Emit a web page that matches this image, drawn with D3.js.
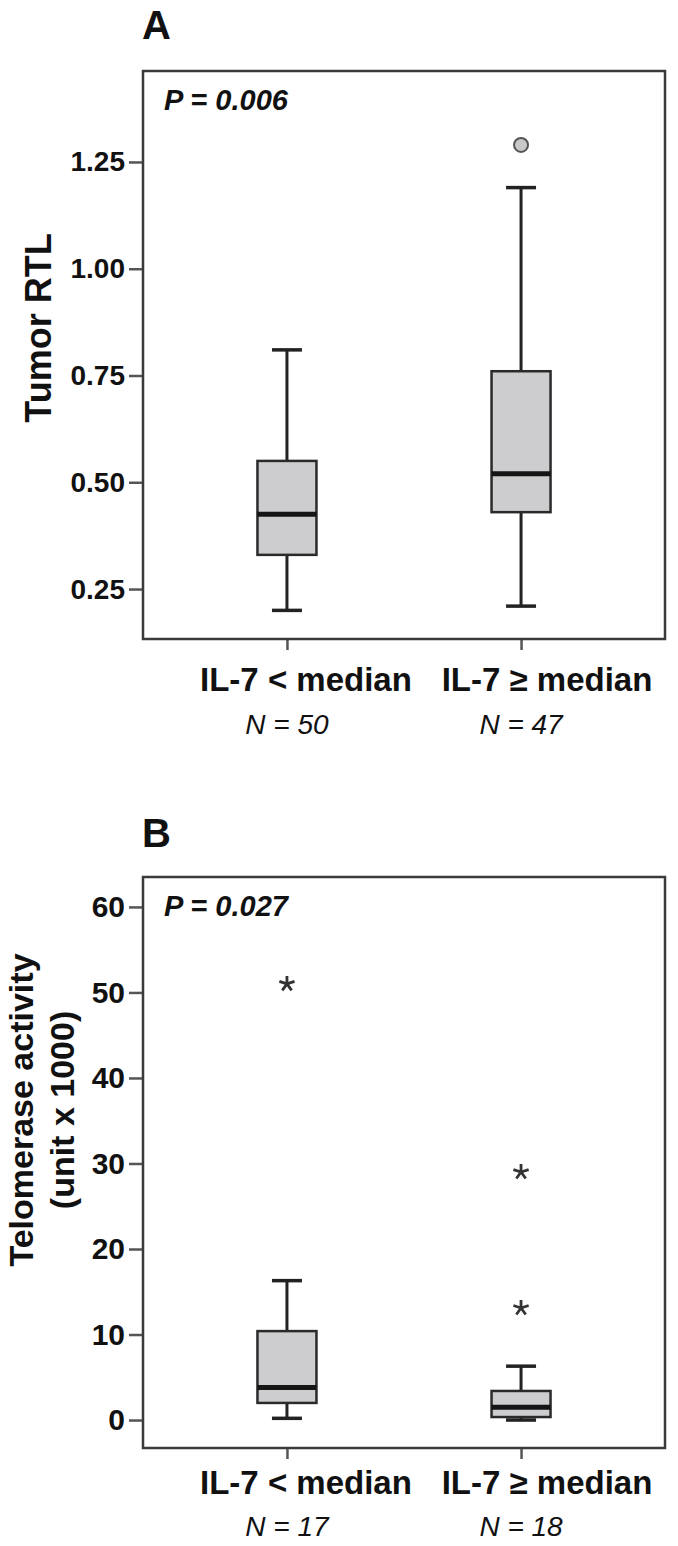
<!DOCTYPE html>
<html><head><meta charset="utf-8">
<script src="https://cdn.jsdelivr.net/npm/d3@7"></script>
<style>body{margin:0;background:#fff} text{font-family:Arial,"Liberation Sans",sans-serif}</style>
</head><body><svg id="c" width="678" height="1546"></svg>
<script>
// ---------- data ----------
const categories = ["IL-7 < median", "IL-7 \u2265 median"];

// Panel A: Tumor RTL
const rtlTicks = [0.25, 0.50, 0.75, 1.00, 1.25];
const rtlWhiskerLow = [0.20, 0.21];
const rtlQ1 = [0.33, 0.43];
const rtlMedian = [0.425, 0.52];
const rtlQ3 = [0.55, 0.76];
const rtlWhiskerHigh = [0.81, 1.19];
const rtlOutliers = [[], [1.29]];      // circles
const rtlN = ["N = 50", "N = 47"];
const rtlP = "P = 0.006";

// Panel B: Telomerase activity
const telTicks = [0, 10, 20, 30, 40, 50, 60];
const telWhiskerLow = [0.2, 0.0];
const telQ1 = [2.0, 0.35];
const telMedian = [3.8, 1.5];
const telQ3 = [10.4, 3.4];
const telWhiskerHigh = [16.3, 6.3];
const telExtremes = [[51], [29, 13.1]]; // asterisks
const telN = ["N = 17", "N = 18"];
const telP = "P = 0.027";

// ---------- layout ----------
const svg = d3.select("#c");
const frameL = 143, frameR = 665;
const labelOffsets = [19, 26];

const asterisk5 = {
  draw(ctx, size) {
    const r = Math.sqrt(size) / 2;
    for (let i = 0; i < 5; i++) {
      const a = -Math.PI / 2 + i * 2 * Math.PI / 5;
      ctx.moveTo(0, 0);
      ctx.lineTo(r * Math.cos(a), r * Math.sin(a));
    }
  }
};

function panel(o) {
  const g = svg.append("g");
  const x = d3.scalePoint().domain(categories).range([frameL, frameR]).padding(0.615);
  const y = d3.scaleLinear().domain(o.domain).range([o.bottom, o.top]);
  const boxW = 59, capW = 30;

  // panel letter
  g.append("text").attr("x", frameL - 1).attr("y", o.letterY)
    .attr("font-size", 40).attr("font-weight", "bold").attr("fill", "#111").text(o.letter);

  // y axis
  const ya = g.append("g").attr("transform", `translate(${frameL},0)`)
    .call(d3.axisLeft(y).tickValues(o.ticks).tickSize(14).tickPadding(4).tickFormat(o.fmt));
  ya.select(".domain").remove();
  ya.selectAll(".tick line").attr("stroke", "#555").attr("stroke-width", 2.5);
  ya.selectAll(".tick text").attr("font-size", o.tickSize).attr("font-weight", "bold")
    .attr("fill", "#111").attr("font-family", "Arial, 'Liberation Sans', sans-serif");

  // x axis ticks
  const xa = g.append("g").attr("transform", `translate(0,${o.bottom})`)
    .call(d3.axisBottom(x).tickSize(11).tickFormat(""));
  xa.select(".domain").remove();
  xa.selectAll(".tick line").attr("stroke", "#555").attr("stroke-width", 2.5);

  // category labels
  categories.forEach((c, i) => {
    g.append("text").attr("x", x(c) + labelOffsets[i]).attr("y", o.bottom + o.labDy)
      .attr("text-anchor", "middle").attr("font-size", 33).attr("font-weight", "bold")
      .attr("fill", "#111").text(c);
    g.append("text").attr("x", x(c)).attr("y", o.bottom + o.nDy)
      .attr("text-anchor", "middle").attr("font-size", 28).attr("font-style", "italic")
      .attr("fill", "#111").text(o.n[i]);
  });

  // axis title
  const t = g.append("text").attr("transform", `translate(${o.titleX},${o.titleY}) rotate(-90)`)
    .attr("text-anchor", "middle").attr("font-size", o.titleSize).attr("font-weight", "bold").attr("fill", "#111");
  o.title.forEach((line, i) => {
    t.append("tspan").attr("x", 0).attr("dy", i === 0 ? 0 : o.titleSize * 1.22).text(line);
  });

  // boxes
  const data = categories.map((c, i) => ({
    c, lo: o.wl[i], q1: o.q1[i], med: o.med[i], q3: o.q3[i], hi: o.wh[i], out: o.out[i]
  }));
  const bg = g.selectAll(".bx").data(data).join("g").attr("class", "bx");
  bg.append("line").attr("x1", d => x(d.c)).attr("x2", d => x(d.c))
    .attr("y1", d => y(d.hi)).attr("y2", d => y(d.q3)).attr("stroke", "#222").attr("stroke-width", 3);
  bg.append("line").attr("x1", d => x(d.c)).attr("x2", d => x(d.c))
    .attr("y1", d => y(d.q1)).attr("y2", d => y(d.lo)).attr("stroke", "#222").attr("stroke-width", 3);
  bg.append("line").attr("x1", d => x(d.c) - capW / 2).attr("x2", d => x(d.c) + capW / 2)
    .attr("y1", d => y(d.hi)).attr("y2", d => y(d.hi)).attr("stroke", "#222").attr("stroke-width", 3.5);
  bg.append("line").attr("x1", d => x(d.c) - capW / 2).attr("x2", d => x(d.c) + capW / 2)
    .attr("y1", d => y(d.lo)).attr("y2", d => y(d.lo)).attr("stroke", "#222").attr("stroke-width", 3.5);
  bg.append("rect").attr("x", d => x(d.c) - boxW / 2).attr("width", boxW)
    .attr("y", d => y(d.q3)).attr("height", d => y(d.q1) - y(d.q3))
    .attr("fill", "#cdcdcf").attr("stroke", "#2a2a2a").attr("stroke-width", 2.5);
  bg.append("line").attr("x1", d => x(d.c) - boxW / 2).attr("x2", d => x(d.c) + boxW / 2)
    .attr("y1", d => y(d.med)).attr("y2", d => y(d.med)).attr("stroke", "#151515").attr("stroke-width", 5);

  // outliers
  data.forEach(d => {
    d.out.forEach(v => {
      if (o.outlierType === "circle") {
        g.append("circle").attr("cx", x(d.c)).attr("cy", y(v)).attr("r", 7)
          .attr("fill", "#c8c8ca").attr("stroke", "#555").attr("stroke-width", 2);
      } else {
        g.append("path").attr("d", d3.symbol().type(asterisk5).size(256)())
          .attr("transform", `translate(${x(d.c)},${y(v)})`)
          .attr("stroke", "#333").attr("stroke-width", 2.8).attr("fill", "none");
      }
    });
  });

  // frame
  g.append("rect").attr("x", frameL).attr("y", o.top).attr("width", frameR - frameL)
    .attr("height", o.bottom - o.top).attr("fill", "none").attr("stroke", "#3a3a3a").attr("stroke-width", 2.5);

  // P value
  g.append("text").attr("x", 164).attr("y", o.top + 39).attr("font-size", 29)
    .attr("font-weight", "bold").attr("font-style", "italic").attr("fill", "#111").text(o.p);
}

panel({
  letter: "A", letterY: 39, top: 71, bottom: 639, domain: [0.133, 1.463],
  ticks: rtlTicks, fmt: d3.format(".2f"), tickSize: 28, labDy: 52, nDy: 95,
  wl: rtlWhiskerLow, q1: rtlQ1, med: rtlMedian, q3: rtlQ3, wh: rtlWhiskerHigh, out: rtlOutliers,
  outlierType: "circle", n: rtlN, p: rtlP,
  title: ["Tumor RTL"], titleX: 51, titleY: 328, titleSize: 36
});

panel({
  letter: "B", letterY: 847, top: 877, bottom: 1448, domain: [-3.27, 63.5],
  ticks: telTicks, fmt: d3.format("d"), tickSize: 30, labDy: 46, nDy: 88,
  wl: telWhiskerLow, q1: telQ1, med: telMedian, q3: telQ3, wh: telWhiskerHigh, out: telExtremes,
  outlierType: "star", n: telN, p: telP,
  title: ["Telomerase activity", "(unit x 1000)"], titleX: 33, titleY: 1110, titleSize: 34
});
</script></body></html>
